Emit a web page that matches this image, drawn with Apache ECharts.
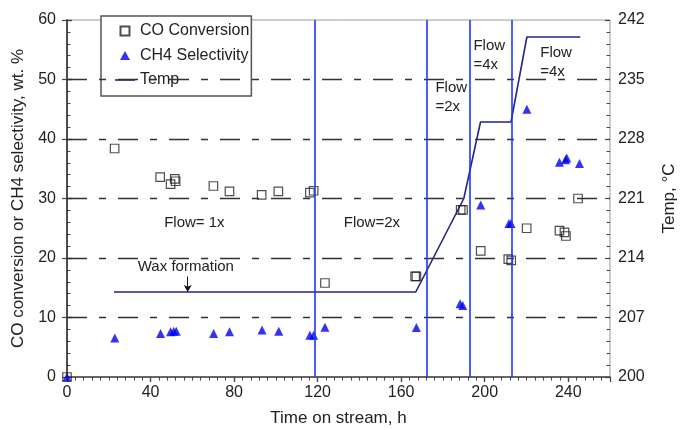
<!DOCTYPE html>
<html><head><meta charset="utf-8">
<script src="https://cdn.jsdelivr.net/npm/echarts@6/dist/echarts.min.js"></script>
<style>html,body{margin:0;padding:0;background:#fff}#c{width:680px;height:430px}</style>
</head><body><div id="c"></div>
<script>
// ---- data ----
const coHours  = [0, 22.8, 44.6, 49.6, 51.6, 52.0, 70.1, 77.8, 93.2, 101.2, 116.3, 118.1, 123.5, 166.7, 167.3, 188.5, 189.6, 198.1, 211.3, 212.7, 220.1, 235.8, 238.2, 238.9, 244.7];
const coValues = [0, 38.4, 33.6, 32.4, 33.3, 32.9, 32.1, 31.2, 30.6, 31.2, 31.0, 31.3, 15.8, 16.9, 16.9, 28.1, 28.1, 21.2, 19.8, 19.6, 25.0, 24.6, 24.3, 23.7, 30.0];
const ch4Hours  = [0, 22.9, 44.8, 49.6, 51.1, 52.3, 70.2, 77.8, 93.4, 101.4, 116.3, 118.1, 123.5, 167.3, 188.2, 189.5, 198.1, 211.6, 212.6, 220.2, 235.8, 238.7, 239.3, 245.4];
const ch4Values = [0, 6.55, 7.3, 7.6, 7.7, 7.7, 7.3, 7.6, 7.9, 7.7, 7.0, 7.0, 8.35, 8.3, 12.3, 12.0, 28.9, 25.8, 25.8, 45.0, 36.1, 36.5, 36.8, 35.9];
const tempHours  = [22.5, 167, 190, 198, 212.6, 220.2, 245.8];
const tempValues = [210, 210, 221, 230, 230, 240, 240];
const flowChangeHours = [118.4, 172.1, 192.8, 212.9];
const gridLevels = [10, 20, 30, 40, 50];
const tempTickLabels = ['200', '207', '214', '221', '228', '235', '242'];
const waxArrow = { hour: 57.8, from: 16.9, to: 14.3 };
const annotations = [
  { text: 'Flow= 1x', hour: 61, value: 25.9, align: 'center' },
  { text: 'Wax formation', hour: 56.9, value: 18.5, align: 'center' },
  { text: 'Flow=2x', hour: 146, value: 25.9, align: 'center' },
  { text: 'Flow\n=2x', hour: 176.4, value: 47.0, align: 'left' },
  { text: 'Flow\n=4x', hour: 194.6, value: 54.0, align: 'left' },
  { text: 'Flow\n=4x', hour: 226.6, value: 52.8, align: 'left' }
];

const FF = '"Liberation Sans", Arial, Helvetica, sans-serif';
const AX = '#444';
const chart = echarts.init(document.getElementById('c'), null, { renderer: 'canvas' });

const pair = (xs, ys) => xs.map((x, i) => [x, ys[i]]);
const xBase = { type: 'value', min: 0, max: 260, gridIndex: 0, splitLine: { show: false } };
const yBase = { type: 'value', min: 0, max: 60, interval: 10, splitLine: { show: false } };

const option = {
  animation: false,
  backgroundColor: '#fff',
  grid: { left: 67, right: 70, top: 20, bottom: 53, containLabel: false, outerBoundsMode: 'none',
          show: true, borderColor: '#9a9a9a', borderWidth: 1 },
  legend: {
    left: 101, top: 16, orient: 'vertical',
    symbolKeepAspect: true,
    data: [
      { name: 'CO Conversion', icon: 'path://M0,0L10,0L10,10L0,10Z' },
      { name: 'CH4 Selectivity', icon: 'path://M5,0L10,9L0,9Z' },
      { name: 'Temp', icon: 'path://M0,0L20,0L20,1.6L0,1.6Z' }
    ],
    itemWidth: 20, itemHeight: 9, itemGap: 6.5,
    padding: [6, 2, 7, 14],
    borderColor: '#555', borderWidth: 1.5, borderRadius: 0, backgroundColor: '#fff',
    textStyle: { fontSize: 16, color: '#222', fontFamily: FF, lineHeight: 18 }
  },
  xAxis: [
    Object.assign({}, xBase, {
      interval: 40, name: 'Time on stream, h', nameLocation: 'middle', nameGap: 33,
      nameTextStyle: { fontSize: 17, color: '#222', fontFamily: FF },
      axisLine: { show: true, lineStyle: { color: AX, width: 1.5 } },
      axisTick: { show: true, inside: false, length: 5, lineStyle: { color: AX, width: 1.2 } },
      axisLabel: { show: true, margin: 8, fontSize: 16, color: '#222', fontFamily: FF, showMaxLabel: false }
    }),
    Object.assign({}, xBase, {
      interval: 40, axisLine: { show: false }, axisLabel: { show: false },
      axisTick: { show: true, inside: true, length: 5, lineStyle: { color: AX, width: 1.2 } }
    }),
    Object.assign({}, xBase, {
      interval: 4, axisLine: { show: false }, axisLabel: { show: false },
      axisTick: { show: true, inside: true, length: 3.5, lineStyle: { color: AX, width: 1 } }
    })
  ],
  yAxis: [
    Object.assign({}, yBase, {
      position: 'left',
      name: 'CO conversion or CH4 selectivity, wt. %', nameLocation: 'middle', nameGap: 38,
      nameTextStyle: { fontSize: 17, color: '#222', fontFamily: FF },
      axisLine: { show: true, lineStyle: { color: AX, width: 1.5 } },
      axisTick: { show: true, inside: false, length: 5, lineStyle: { color: AX, width: 1.2 } },
      axisLabel: { show: true, margin: 11, fontSize: 16, color: '#222', fontFamily: FF }
    }),
    Object.assign({}, yBase, {
      position: 'left', axisLine: { show: false }, axisLabel: { show: false },
      axisTick: { show: true, inside: true, length: 5, lineStyle: { color: AX, width: 1.2 } },
      minorTick: { show: true, splitNumber: 5, length: 3.5, lineStyle: { color: AX, width: 1 } }
    }),
    {
      type: 'value', position: 'right', min: 0, max: 6, interval: 1, splitLine: { show: false },
      name: 'Temp, \u00B0C', nameLocation: 'middle', nameGap: 51, nameRotate: 90,
      nameTextStyle: { fontSize: 17, color: '#222', fontFamily: FF },
      axisLine: { show: true, lineStyle: { color: AX, width: 1.5 } },
      axisTick: { show: true, inside: false, length: 5, lineStyle: { color: AX, width: 1.2 } },
      axisLabel: { show: true, margin: 8, fontSize: 16, color: '#222', fontFamily: FF,
        formatter: v => tempTickLabels[Math.round(v)] }
    },
    {
      type: 'value', position: 'right', min: 0, max: 6, interval: 1, splitLine: { show: false },
      axisLine: { show: false }, axisLabel: { show: false },
      axisTick: { show: true, inside: true, length: 5, lineStyle: { color: AX, width: 1.2 } },
      minorTick: { show: true, splitNumber: 5, length: 3.5, lineStyle: { color: AX, width: 1 } }
    },
    { type: 'value', position: 'right', min: 200, max: 242, show: false, splitLine: { show: false } }
  ],
  series: [
    {
      name: 'grid', type: 'line', data: [], xAxisIndex: 0, yAxisIndex: 0, silent: true, z: 1,
      markLine: {
        silent: true, symbol: 'none', label: { show: false }, animation: false,
        lineStyle: { color: '#333', width: 1.3, type: [20, 12, 7, 12] },
        data: gridLevels.map(v => ({ yAxis: v }))
      }
    },
    {
      name: 'Temp', type: 'line', xAxisIndex: 0, yAxisIndex: 4, data: pair(tempHours, tempValues),
      showSymbol: false, symbol: 'none', z: 3,
      itemStyle: { color: '#23238f' },
      lineStyle: { color: '#23238f', width: 1.6 }
    },
    {
      name: 'CO Conversion', type: 'scatter', xAxisIndex: 0, yAxisIndex: 0, data: pair(coHours, coValues),
      symbol: 'rect', symbolSize: 8.5, z: 4,
      itemStyle: { color: 'rgba(0,0,0,0)', borderColor: '#222', borderWidth: 1.2 },
      markLine: {
        silent: true, symbol: ['none', 'arrow'], symbolSize: [6, 7], label: { show: false },
        lineStyle: { color: '#111', width: 1, type: 'solid' },
        data: [[{ coord: [waxArrow.hour, waxArrow.from] }, { coord: [waxArrow.hour, waxArrow.to] }]]
      }
    },
    {
      name: 'CH4 Selectivity', type: 'scatter', xAxisIndex: 0, yAxisIndex: 0, data: pair(ch4Hours, ch4Values),
      symbol: 'triangle', symbolSize: 9, z: 4,
      itemStyle: { color: '#0000f0' }
    },
    {
      name: 'flow', type: 'line', data: [], xAxisIndex: 0, yAxisIndex: 0, silent: true, z: 5,
      markLine: {
        silent: true, symbol: 'none', label: { show: false },
        lineStyle: { color: '#1f35ff', width: 1.6, type: 'solid' },
        data: flowChangeHours.map(h => ({ xAxis: h }))
      }
    }
  ]
};
chart.setOption(option);

const graphics = annotations.map(a => {
  const p = chart.convertToPixel({ xAxisIndex: 0, yAxisIndex: 0 }, [a.hour, a.value]);
  return {
    type: 'text', x: p[0], y: p[1], z: 10,
    style: { text: a.text, font: '15px ' + FF, fill: '#222', align: a.align, verticalAlign: 'middle', lineHeight: 19 }
  };
});
chart.setOption({ graphic: graphics });
</script>
</body></html>
